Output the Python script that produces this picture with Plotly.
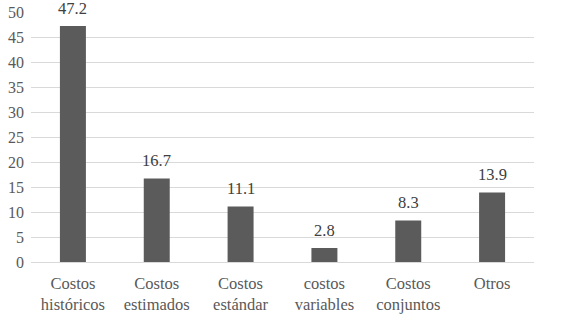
import plotly.graph_objects as go

categories = ["Costos<br>históricos", "Costos<br>estimados", "Costos<br>estándar",
              "costos<br>variables", "Costos<br>conjuntos", "Otros"]
values = [47.2, 16.7, 11.1, 2.8, 8.3, 13.9]
labels = ["47.2", "16.7", "11.1", "2.8", "8.3", "13.9"]

FONT = "Liberation Serif"

fig = go.Figure(go.Bar(
    x=categories, y=values,
    marker=dict(color="#5b5b5b", line=dict(width=0)),
    cliponaxis=False,
))
for c, v, t in zip(categories, values, labels):
    fig.add_annotation(x=c, y=v, text=t, showarrow=False, yanchor="middle",
                       yshift=18, font=dict(family=FONT, size=16.5, color="#404040"))
fig.update_layout(
    width=564, height=329,
    margin=dict(l=31, r=30, t=12, b=67, autoexpand=False),
    paper_bgcolor="white", plot_bgcolor="white",
    bargap=0.69, showlegend=False,
    font=dict(family=FONT, size=16, color="#595959"),
)
fig.update_yaxes(range=[0, 50], dtick=5, showgrid=True, gridcolor="#d9d9d9",
                 gridwidth=1, zeroline=False, showline=False, ticks="",
                 automargin=False, ticklabelstandoff=6,
                 tickfont=dict(family=FONT, size=16, color="#595959"))
fig.update_xaxes(showline=True, linecolor="#d9d9d9", linewidth=1, ticks="",
                 automargin=False, ticklabelstandoff=6,
                 tickfont=dict(family=FONT, size=16.5, color="#595959"))
fig.write_html("out.html", config={"displayModeBar": False},
               post_script="document.body.style.margin='0';")
